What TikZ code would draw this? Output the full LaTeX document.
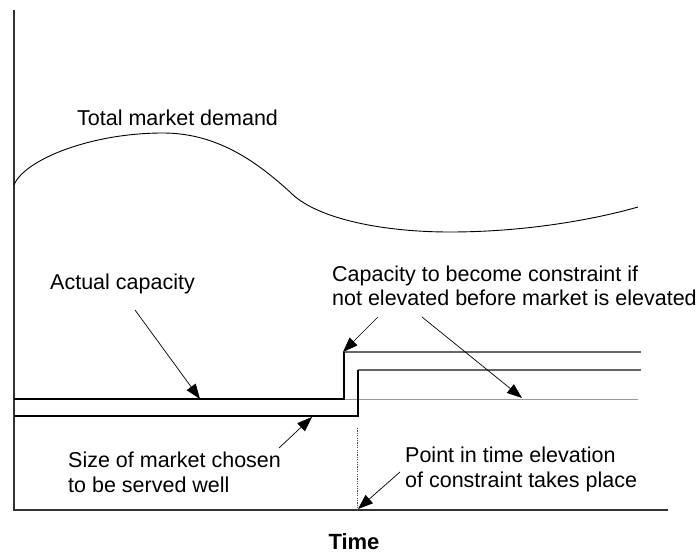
\documentclass[tikz,border=0pt]{standalone}
\usepackage{fontspec}
\setmainfont{Liberation Sans}
\usetikzlibrary{arrows.meta}
\begin{document}
\begin{tikzpicture}[x=1pt,y=-1pt,
  label text/.style={inner sep=0pt,anchor=base west,align=left,
    font=\fontsize{21.5}{24.5}\selectfont},
  axis line/.style={line width=1.1pt,draw=black!80},
  cap line/.style={line width=1.2pt,draw=black},
  level line/.style={line width=1.2pt,draw=black!60},
  faint line/.style={line width=0.9pt,draw=black!40},
  pointer/.style={line width=0.7pt,-{Triangle[length=15pt,width=11pt]}}]
\useasboundingbox (0,0) rectangle (699,553);

% axes
\coordinate (ytop) at (14,10);
\coordinate (origin) at (14,510);
\coordinate (xend) at (668,510);
\draw[axis line] (ytop) -- (origin) -- (xend);
\node[inner sep=0pt,font=\fontsize{22}{24}\selectfont\bfseries] (time) at (354,542) {Time};

% total market demand
\draw[line width=0.9pt] (14,185) .. controls (24,160) and (90,133) .. (163,133)
  .. controls (220,133) and (260,165) .. (290,192)
  .. controls (315,218) and (380,232) .. (450,232)
  .. controls (530,232) and (600,218) .. (638,207);
\node[label text] (demand) at (77,126) {Total market demand};

% capacity and market size steps
\coordinate (capL) at (14,399);
\coordinate (capStep) at (344,399);
\coordinate (capUp) at (344,352);
\coordinate (capR) at (641,352);
\coordinate (mktL) at (14,416);
\coordinate (mktStep) at (358,416);
\coordinate (mktUp) at (358,370);
\coordinate (mktR) at (641,370);
\coordinate (oldR) at (638,399);
\draw[faint line] (capStep) -- (oldR);
\draw[level line] (capUp) -- (capR);
\draw[level line] (mktUp) -- (mktR);
\draw[cap line] (capL) -- (capStep) -- (capUp);
\draw[cap line] (mktL) -- (mktStep) -- (mktUp);

% moment of elevation
\coordinate (elevTop) at (357,428);
\coordinate (elevBot) at (357,510);
\draw[line width=0.6pt,black!70,dash pattern=on 1.2pt off 1.2pt] (elevTop) -- (elevBot);

% labels (base anchor sits on the last line's baseline)
\node[label text] (actual) at (50,290) {Actual capacity};
\node[label text] (constraint) at (332,306) {Capacity to become constraint if\\not elevated before market is elevated};
\node[label text] (size) at (68,492) {Size of market chosen\\to be served well};
\node[label text] (point) at (405,487) {Point in time elevation\\of constraint takes place};

% pointers
\coordinate (a1) at (135,310);  \coordinate (a1tip) at (200,399);
\coordinate (a2) at (378,317);  \coordinate (a2tip) at (343,352);
\coordinate (a3) at (422,317);  \coordinate (a3tip) at (522,398);
\coordinate (a4) at (279,448);  \coordinate (a4tip) at (312,417);
\coordinate (a5) at (400,472);  \coordinate (a5tip) at (358,509);
\draw[pointer] (a1) -- (a1tip);
\draw[pointer] (a2) -- (a2tip);
\draw[pointer] (a3) -- (a3tip);
\draw[pointer] (a4) -- (a4tip);
\draw[pointer] (a5) -- (a5tip);
\end{tikzpicture}
\end{document}
